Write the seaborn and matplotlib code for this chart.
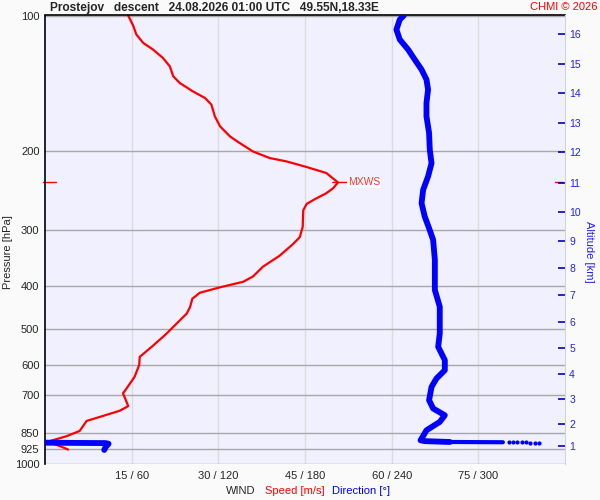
import matplotlib
matplotlib.use("Agg")
import matplotlib.pyplot as plt
from matplotlib.ticker import NullLocator, NullFormatter
import seaborn as sns

# wind speed profile (m/s) vs pressure (hPa), read top -> bottom
SPEED = [14.4, 15.3, 15.8, 17.0, 18.7, 20.4, 21.6, 22.2, 23.3, 25.6, 27.7, 28.8,
         29.4, 30.3, 32.0, 33.7, 36.0, 38.9, 41.8, 45.3, 48.7, 50.7, 49.9, 48.7,
         46.7, 45.3, 44.7, 44.6, 44.1, 42.9, 40.6, 37.7, 36.0, 34.3, 30.3, 26.8,
         25.5, 25.1, 24.5, 23.3, 21.0, 18.7, 17.0, 16.4, 16.3, 15.5, 14.1, 13.5,
         14.0, 14.4, 12.9, 9.5, 7.2, 6.0, 3.7, 0.3, 0.8, 2.5, 4.0]
SPEED_P = [100, 105.6, 110.2, 115.1, 119.1, 124.3, 129.8, 136.6, 141.3, 147.6, 152.7, 158,
           167.8, 176.6, 185.9, 192.4, 200.9, 207.8, 211.4, 217.6, 224.4, 235.5, 242.4, 248.8,
           256.6, 262.8, 271.6, 296, 311.8, 323.2, 343, 363, 381.5, 392, 403.3, 414.7,
           427.6, 446.7, 462, 478.4, 512, 544, 567.6, 576, 601, 638.6, 678, 695,
           719.6, 742, 760, 784, 800.6, 842.7, 866, 891.8, 895, 910, 927]

# wind direction (deg) vs pressure (hPa)
DIR = [248.4, 245.6, 243.3, 245.6, 251.4, 256.0, 260.7, 264.1, 265.2, 264.1, 264.1, 265.9,
       266.4, 267.6, 265.2, 261.8, 260.7, 262.9, 265.9, 268.7, 269.9, 269.9, 273.3, 273.3,
       272.2, 276.8, 276.8, 271.0, 267.6, 265.9, 268.7, 276.8, 273.3, 264.1, 261.4, 260.0,
       263.0, 280.3]
DIR_P = [100, 102.1, 107.5, 113.1, 119.1, 125.4, 132, 138.9, 146.3, 156.6, 167.8, 182.7,
         199.2, 213.3, 228.4, 244.5, 261.9, 280.6, 297.8, 316.2, 350.4, 408.9, 445.6, 510.9,
         547.2, 586.1, 617, 644, 672.2, 719.6, 751, 777.6, 804.5, 839.9, 869, 884.1,
         888, 891.8]
DIR_TAIL = [280.3, 294.1, 317]
DIR_TAIL_P = [891.8, 892.3, 893]
DIR_DOTS = [321, 324, 327, 330, 333, 336, 339, 342]
DIR_DOTS_P = [893.2, 893.4, 893.6, 893.8, 894, 894.2, 894.4, 894.6]
DIR_WRAP = [0, 20, 42, 44, 42, 41]
DIR_WRAP_P = [895, 896, 897, 900, 915, 929]

P_TICKS = [100, 200, 300, 400, 500, 600, 700, 850, 925, 1000]
SPEED_TICKS = [15, 30, 45, 60, 75]
SPEED_LABELS = ["15 / 60", "30 / 120", "45 / 180", "60 / 240", "75 / 300"]
ALT_KM = [1, 2, 3, 4, 5, 6, 7, 8, 9, 10, 11, 12, 13, 14, 15, 16]
ALT_P = [911.8, 811.4, 716, 630.7, 551.8, 482, 420.3, 365.8, 317.5, 274.3,
         236.3, 201.5, 173.3, 149, 128, 110.1]

sns.set_style("white")
plt.rcParams["font.family"] = ["Liberation Sans", "DejaVu Sans"]

fig = plt.figure(figsize=(6, 5), dpi=100, facecolor="#fafafa")
ax = fig.add_axes([45 / 600, 1 - 464.3 / 500, 520 / 600, 448.8 / 500])
ax.set_facecolor("#f0f0ff")
ax.set_yscale("log")
ax.set_ylim(1000, 100)
ax.set_xlim(0, 90)

ax.set_yticks(P_TICKS)
ax.set_yticklabels([str(p) for p in P_TICKS])
ax.yaxis.set_minor_locator(NullLocator())
ax.yaxis.set_minor_formatter(NullFormatter())
ax.set_xticks(SPEED_TICKS)
ax.set_xticklabels(SPEED_LABELS)
ax.tick_params(axis="y", length=0, pad=4, labelsize=8)
ax.tick_params(axis="x", length=0, pad=5, labelsize=8)
ax.yaxis.grid(True, color="#a8a8a8", lw=1)
ax.xaxis.grid(True, color="#dcdcdc", lw=1)
ax.set_axisbelow(True)
for side in ["bottom", "right"]:
    ax.spines[side].set_visible(False)
for side in ["top", "left"]:
    ax.spines[side].set_color("black")
    ax.spines[side].set_linewidth(1.2)

sns.lineplot(x=SPEED, y=SPEED_P, sort=False, estimator=None, color="red",
             lw=1.6, ax=ax)

# max wind marker
imax = SPEED.index(max(SPEED))
ax.annotate("MXWS", xy=(SPEED[imax] - 0.9, SPEED_P[imax]), xytext=(11, 0),
            textcoords="offset points", va="center", ha="left", color="#ff3030",
            fontsize=7.5, bbox=dict(facecolor="white", edgecolor="none", pad=0.5),
            arrowprops=dict(arrowstyle="-", color="red", lw=1, shrinkA=0, shrinkB=0))
ax.plot([-0.004, 0.021], [SPEED_P[imax]] * 2, color="red", lw=1,
        transform=ax.get_yaxis_transform(), clip_on=False)
ax.plot([0.98, 0.996], [SPEED_P[imax]] * 2, color="red", lw=1,
        transform=ax.get_yaxis_transform(), clip_on=False, zorder=5)

# direction on its own x scale
ax_dir = ax.twiny()
ax_dir.set_xlim(0, 360)
ax_dir.axis("off")
sns.lineplot(x=DIR, y=DIR_P, sort=False, estimator=None, color="blue", lw=4.2,
             solid_capstyle="round", ax=ax_dir)
sns.lineplot(x=DIR_TAIL, y=DIR_TAIL_P, sort=False, estimator=None, color="blue",
             lw=3.0, ax=ax_dir)
sns.scatterplot(x=DIR_DOTS, y=DIR_DOTS_P, color="blue", marker="o", s=9,
                linewidth=0, ax=ax_dir)
sns.lineplot(x=DIR_WRAP, y=DIR_WRAP_P, sort=False, estimator=None, color="blue",
             lw=4.2, solid_capstyle="round", ax=ax_dir)
ax_dir.set_ylim(1000, 100)

# altitude axis
ax_alt = ax.twinx()
ax_alt.set_yscale("log")
ax_alt.set_ylim(1000, 100)
ax_alt.set_yticks(ALT_P)
ax_alt.set_yticklabels([str(k) for k in ALT_KM])
ax_alt.yaxis.set_minor_locator(NullLocator())
ax_alt.yaxis.set_minor_formatter(NullFormatter())
ax_alt.tick_params(axis="y", direction="in", length=5, width=1.2, color="#0000cc",
                   labelcolor="#2020ff", labelsize=7.5, pad=3)
for side in ["top", "left", "bottom"]:
    ax_alt.spines[side].set_visible(False)
ax_alt.spines["right"].set_color("#d4d4d4")

fig.text(50 / 600, 1 - 7.5 / 500,
         "Prostejov   descent   24.08.2026 01:00 UTC   49.55N,18.33E",
         fontsize=8.6, fontweight="bold", va="center", ha="left")
fig.text(597 / 600, 1 - 7.5 / 500, "CHMI \u00a9 2026", color="red", fontsize=8,
         va="center", ha="right")
fig.text(8 / 600, 1 - 252 / 500, "Pressure [hPa]", rotation=90, fontsize=8,
         va="center", ha="center")
fig.text(589 / 600, 1 - 252 / 500, "Altitude [km]", rotation=270, fontsize=8,
         color="#2020ff", va="center", ha="center")
fig.text(226 / 600, 1 - 491 / 500, "WIND", fontsize=8, va="center", ha="left")
fig.text(265 / 600, 1 - 491 / 500, "Speed [m/s]", fontsize=8, color="red",
         va="center", ha="left")
fig.text(332 / 600, 1 - 491 / 500, "Direction [\u00b0]", fontsize=8, color="blue",
         va="center", ha="left")

fig.savefig("out.png", dpi=100, facecolor=fig.get_facecolor())
